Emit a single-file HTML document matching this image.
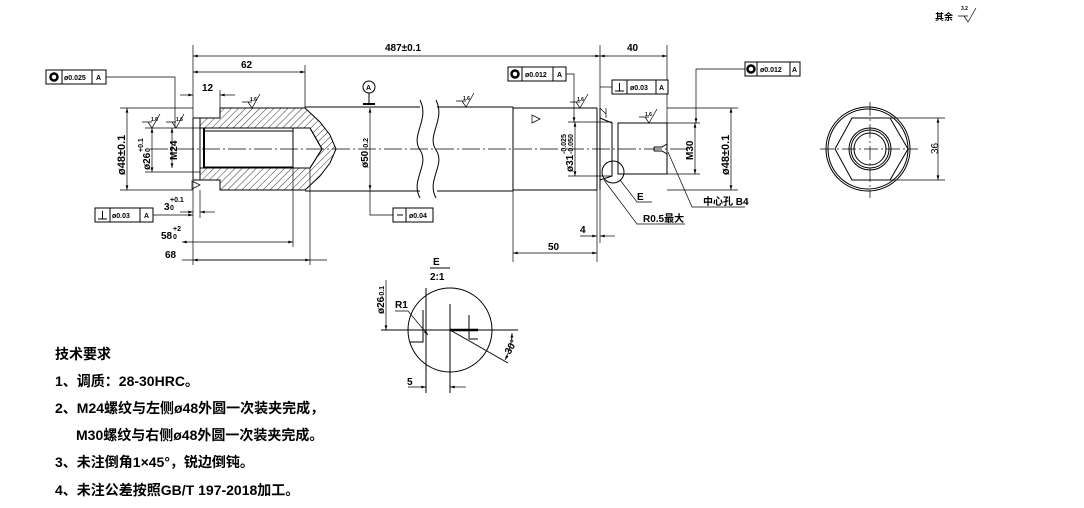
<!DOCTYPE html>
<html><head><meta charset="utf-8"><style>
html,body{margin:0;padding:0;background:#fff}
svg{display:block}
text{font-family:"Liberation Sans","Noto Sans CJK SC",sans-serif;fill:#000}
.t{font-size:10px;font-weight:bold}
.s{font-size:7px;font-weight:bold}
.req{font-size:14px;font-weight:bold}
</style></head><body>
<svg width="1084" height="508" viewBox="0 0 1084 508" xmlns="http://www.w3.org/2000/svg">
<defs>
<pattern id="h" width="5" height="5" patternUnits="userSpaceOnUse" patternTransform="rotate(45)">
<line x1="0" y1="0" x2="0" y2="5" stroke="#000" stroke-width="0.8"/></pattern>
<marker id="a" viewBox="0 0 10 6" refX="10" refY="3" markerWidth="8" markerHeight="4" orient="auto-start-reverse"><path d="M0,0L10,3L0,6z" fill="#000"/></marker>
</defs>
<g stroke="#000" fill="none" stroke-width="1">
<path d="M200,118 L220,118 L220,108 L305,108 L320,122 L330,135 L336,149 L330,163 L320,176 L305,190 L220,190 L220,180 L200,180 L200,168 L310,168 L322,149 L310,128 L200,128 Z" fill="url(#h)"/>
<rect x="200" y="128" width="110" height="40" fill="#fff" stroke="none"/>
<path d="M200,128 L310,128 L322,149 L310,168 L200,168"/>
<line x1="205" y1="131" x2="293" y2="131"/><line x1="205" y1="167" x2="293" y2="167"/>
<line x1="293" y1="128" x2="293" y2="168"/>
<line x1="193" y1="118" x2="193" y2="180"/><line x1="193" y1="118" x2="200" y2="118"/><line x1="193" y1="180" x2="200" y2="180"/>
<line x1="200" y1="118" x2="200" y2="180"/><line x1="204" y1="128" x2="204" y2="168" stroke-width="2"/>
<line x1="305" y1="107" x2="420" y2="107"/><line x1="305" y1="191" x2="420" y2="191"/>
<line x1="437" y1="107" x2="513" y2="107"/><line x1="437" y1="191" x2="513" y2="191"/>
<path d="M420,100 C430,120 410,135 420,150 C430,165 410,180 420,198"/>
<path d="M436,100 C446,120 426,135 436,150 C446,165 426,180 436,198"/>
<line x1="513" y1="107" x2="513" y2="191"/>
<line x1="513" y1="108" x2="597" y2="108"/><line x1="513" y1="190" x2="597" y2="190"/>
<line x1="597" y1="108" x2="597" y2="190"/><line x1="600" y1="108" x2="600" y2="190"/>
<path d="M600,118 L612,123 L612,176 L600,180"/>
<line x1="612" y1="123" x2="612" y2="176"/><line x1="618" y1="123" x2="618" y2="174"/>
<rect x="618" y="123" width="49" height="51"/>
<path d="M654,147 L662,147 L667,144 M654,151 L662,151 L667,154 M654,147 L654,151"/>
<circle cx="613" cy="172" r="11"/>
<line x1="150" y1="149" x2="690" y2="149" stroke-dasharray="18,3,2,3" stroke-width="0.7"/>
<line x1="193" y1="45" x2="193" y2="118" stroke-width="0.7"/>
<line x1="600" y1="45" x2="600" y2="108" stroke-width="0.7"/>
<line x1="667" y1="45" x2="667" y2="123" stroke-width="0.7"/>
<line x1="305" y1="65" x2="305" y2="108" stroke-width="0.7"/>
<line x1="193" y1="56" x2="600" y2="56" marker-start="url(#a)" marker-end="url(#a)" stroke-width="0.7"/>
<line x1="600" y1="56" x2="667" y2="56" marker-start="url(#a)" marker-end="url(#a)" stroke-width="0.7"/>
<line x1="193" y1="72" x2="305" y2="72" marker-start="url(#a)" marker-end="url(#a)" stroke-width="0.7"/>
<line x1="180" y1="95" x2="193" y2="95" marker-end="url(#a)" stroke-width="0.7"/>
<line x1="220" y1="95" x2="235" y2="95" marker-start="url(#a)" stroke-width="0.7"/>
<line x1="220" y1="90" x2="220" y2="108" stroke-width="0.7"/>
<line x1="120" y1="108" x2="193" y2="108" stroke-width="0.7"/>
<line x1="120" y1="190" x2="193" y2="190" stroke-width="0.7"/>
<line x1="127" y1="108" x2="127" y2="190" marker-start="url(#a)" marker-end="url(#a)" stroke-width="0.7"/>
<line x1="145" y1="128" x2="200" y2="128" stroke-width="0.7"/>
<line x1="145" y1="172" x2="200" y2="172" stroke-width="0.7"/>
<line x1="152" y1="128" x2="152" y2="172" marker-start="url(#a)" marker-end="url(#a)" stroke-width="0.7"/>
<line x1="172" y1="128" x2="172" y2="168" marker-start="url(#a)" marker-end="url(#a)" stroke-width="0.7"/>
<line x1="193" y1="180" x2="193" y2="265" stroke-width="0.7"/>
<line x1="200" y1="190" x2="200" y2="218" stroke-width="0.7"/>
<line x1="293" y1="168" x2="293" y2="247" stroke-width="0.7"/>
<line x1="310" y1="168" x2="310" y2="265" stroke-width="0.7"/>
<line x1="180" y1="212" x2="193" y2="212" marker-end="url(#a)" stroke-width="0.7"/>
<line x1="200" y1="212" x2="215" y2="212" marker-start="url(#a)" stroke-width="0.7"/>
<line x1="182" y1="242" x2="293" y2="242" marker-start="url(#a)" marker-end="url(#a)" stroke-width="0.7"/>
<line x1="182" y1="260" x2="327" y2="260" stroke-width="0.7"/>
<line x1="193" y1="260" x2="310" y2="260" marker-start="url(#a)" marker-end="url(#a)" stroke-width="0.7"/>
<rect x="46" y="70" width="60" height="14" fill="#fff"/>
<line x1="62" y1="70" x2="62" y2="84"/><line x1="92" y1="70" x2="92" y2="84"/>
<circle cx="54" cy="77" r="3.5" stroke-width="2.5"/>
<path d="M106,77 L175,77 L175,128" stroke-width="0.7"/>
<rect x="95" y="208" width="58" height="14" fill="#fff"/>
<line x1="110" y1="208" x2="110" y2="222"/><line x1="140" y1="208" x2="140" y2="222"/>
<path d="M98,219 L107,219 M102.5,211 L102.5,219"/>
<line x1="153" y1="215" x2="193" y2="215" stroke-width="0.7" marker-end="url(#a)"/>
<circle cx="369" cy="87" r="6"/>
<line x1="369" y1="93" x2="369" y2="103"/><line x1="363" y1="104" x2="375" y2="104" stroke-width="2"/>
<line x1="370" y1="108" x2="370" y2="190" marker-start="url(#a)" marker-end="url(#a)" stroke-width="0.7"/>
<path d="M370,190 L370,215 L393,215" stroke-width="0.7"/>
<rect x="393" y="208" width="40" height="14" fill="#fff"/><line x1="406" y1="208" x2="406" y2="222"/>
<line x1="397" y1="215" x2="403" y2="215"/>
<line x1="513" y1="191" x2="513" y2="262" stroke-width="0.7"/>
<line x1="597" y1="190" x2="597" y2="262" stroke-width="0.7"/>
<line x1="600" y1="190" x2="600" y2="243" stroke-width="0.7"/>
<line x1="513" y1="253" x2="597" y2="253" marker-start="url(#a)" marker-end="url(#a)" stroke-width="0.7"/>
<line x1="580" y1="236" x2="597" y2="236" marker-end="url(#a)" stroke-width="0.7"/>
<line x1="600" y1="236" x2="615" y2="236" marker-start="url(#a)" stroke-width="0.7"/>
<line x1="568" y1="122" x2="612" y2="122" stroke-width="0.7"/>
<line x1="568" y1="176" x2="612" y2="176" stroke-width="0.7"/>
<line x1="575" y1="122" x2="575" y2="176" marker-start="url(#a)" marker-end="url(#a)" stroke-width="0.7"/>
<line x1="667" y1="123" x2="700" y2="123" stroke-width="0.7"/>
<line x1="667" y1="174" x2="700" y2="174" stroke-width="0.7"/>
<line x1="695" y1="123" x2="695" y2="174" marker-start="url(#a)" marker-end="url(#a)" stroke-width="0.7"/>
<line x1="667" y1="108" x2="738" y2="108" stroke-width="0.7"/>
<line x1="667" y1="190" x2="738" y2="190" stroke-width="0.7"/>
<line x1="731" y1="108" x2="731" y2="190" marker-start="url(#a)" marker-end="url(#a)" stroke-width="0.7"/>
<rect x="508" y="67" width="58" height="14" fill="#fff"/><line x1="522" y1="67" x2="522" y2="81"/><line x1="553" y1="67" x2="553" y2="81"/>
<circle cx="515" cy="74" r="3.5" stroke-width="2.5"/>
<path d="M566,74 L574,74 L574,122" stroke-width="0.7" marker-end="url(#a)"/>
<rect x="612" y="80" width="56" height="14" fill="#fff"/><line x1="627" y1="80" x2="627" y2="94"/><line x1="656" y1="80" x2="656" y2="94"/>
<path d="M615,91 L624,91 M619.5,83 L619.5,91"/>
<path d="M612,87 L600,87" stroke-width="0.7"/>
<rect x="745" y="62" width="55" height="14" fill="#fff"/><line x1="757" y1="62" x2="757" y2="76"/><line x1="790" y1="62" x2="790" y2="76"/>
<circle cx="751" cy="69" r="3.5" stroke-width="2.5"/>
<path d="M745,69 L696,69 L696,123" stroke-width="0.7" marker-end="url(#a)"/>
<path d="M620,180 L637,202 L652,202" stroke-width="0.7"/>
<path d="M604,180 L637,224 L685,224" stroke-width="0.7"/>
<path d="M668,152 L692,207 L745,207" stroke-width="0.7"/>
<path d="M148,122 L152,128 L160,114 M142,122 L152,122" stroke-width="0.7"/>
<path d="M172,122 L176,128 L184,114 M166,122 L176,122" stroke-width="0.7"/>
<path d="M248,102 L252,108 L260,94 M242,102 L252,102" stroke-width="0.7"/>
<path d="M462,101 L466,107 L474,93 M456,101 L466,101" stroke-width="0.7"/>
<path d="M576,102 L580,108 L588,94 M570,102 L580,102" stroke-width="0.7"/>
<path d="M645,117 L649,123 L657,109 M639,117 L649,117" stroke-width="0.7"/>
<path d="M200,185 L192,181 L192,189 Z" stroke-width="0.7"/>
<path d="M540,119 L532,115 L532,123 Z" stroke-width="0.7"/>
<path d="M600,108 L606,114 M606,108 L606,118" stroke-width="0.7"/>
<path d="M964,16 L968,22 L976,8 M958,16 L968,16" stroke-width="0.7"/>
<circle cx="868" cy="149" r="42"/><circle cx="868" cy="149" r="40"/>
<path d="M852,118 L890,118 L908,149 L890,180 L852,180 L835,149 Z"/>
<circle cx="870" cy="149" r="21"/><circle cx="870" cy="149" r="19"/><circle cx="870" cy="149" r="16"/>
<line x1="820" y1="149" x2="918" y2="149" stroke-dasharray="14,3,2,3" stroke-width="0.7"/>
<line x1="870" y1="102" x2="870" y2="198" stroke-dasharray="14,3,2,3" stroke-width="0.7"/>
<line x1="890" y1="118" x2="945" y2="118" stroke-width="0.7"/>
<line x1="890" y1="180" x2="945" y2="180" stroke-width="0.7"/>
<line x1="938" y1="118" x2="938" y2="180" marker-start="url(#a)" marker-end="url(#a)" stroke-width="0.7"/>
<circle cx="450" cy="330" r="42"/>
<line x1="381" y1="330" x2="518" y2="330"/>
<line x1="426" y1="288" x2="426" y2="393"/>
<line x1="450" y1="304" x2="450" y2="393"/>
<path d="M423,310 L423,342 L410,342" />
<path d="M469,315 L469,339 L478,339"/>
<line x1="450" y1="330" x2="478" y2="330" stroke-width="2.5"/>
<line x1="450" y1="330" x2="508" y2="363"/>
<path d="M512,333 A60,60 0 0 1 505,360" marker-start="url(#a)" marker-end="url(#a)" stroke-width="0.7"/>
<line x1="386" y1="280" x2="386" y2="330" marker-end="url(#a)" stroke-width="0.7"/>
<path d="M395,311 L408,311 L428,335" stroke-width="0.7" marker-end="url(#a)"/>
<line x1="408" y1="387" x2="426" y2="387" marker-end="url(#a)" stroke-width="0.7"/>
<line x1="450" y1="387" x2="466" y2="387" marker-start="url(#a)" stroke-width="0.7"/>
<line x1="430" y1="268" x2="450" y2="268"/>
</g>
<g class="t">
<text x="385" y="51">487±0.1</text>
<text x="627" y="51">40</text>
<text x="241" y="68">62</text>
<text x="202" y="91">12</text>
<text x="164" y="210">3</text><text x="170" y="202" class="s">+0.1</text><text x="170" y="210" class="s">0</text>
<text x="161" y="239">58</text><text x="173" y="231" class="s">+2</text><text x="173" y="239" class="s">0</text>
<text x="165" y="258">68</text>
<text x="548" y="250">50</text>
<text x="580" y="233">4</text>
<text class="s" x="64" y="80">ø0.025</text><text class="s" x="96" y="80">A</text>
<text class="s" x="112" y="218">ø0.03</text><text class="s" x="144" y="218">A</text>
<text class="s" x="409" y="218">ø0.04</text>
<text class="s" x="366" y="90">A</text>
<text class="s" x="525" y="77">ø0.012</text><text class="s" x="557" y="77">A</text>
<text class="s" x="630" y="90">ø0.03</text><text class="s" x="659" y="90">A</text>
<text class="s" x="760" y="72">ø0.012</text><text class="s" x="792" y="72">A</text>
<text x="637" y="200">E</text>
<text x="643" y="222">R0.5最大</text>
<text x="703" y="205">中心孔 B4</text>
<text x="935" y="20" class="s" style="font-size:9px">其余</text>
<text x="961" y="10" class="s" style="font-size:5px">3.2</text>
<text x="433" y="265">E</text>
<text x="430" y="280">2:1</text>
<text x="395" y="308">R1</text>
<text x="407" y="385">5</text>
<text transform="translate(510,355) rotate(-60)">30°</text>
<text transform="translate(125,175) rotate(-90)" style="font-size:11px">ø48±0.1</text>
<text transform="translate(150,170) rotate(-90)">ø26</text><text class="s" transform="translate(143,152) rotate(-90)">+0.1</text><text class="s" transform="translate(150,152) rotate(-90)">0</text>
<text transform="translate(177,160) rotate(-90)">M24</text>
<text transform="translate(368,168) rotate(-90)">ø50</text><text class="s" transform="translate(368,150) rotate(-90)">-0.2</text>
<text transform="translate(573,172) rotate(-90)">ø31</text><text class="s" transform="translate(566,154) rotate(-90)">-0.025</text><text class="s" transform="translate(573,154) rotate(-90)">-0.050</text>
<text transform="translate(693,160) rotate(-90)">M30</text>
<text transform="translate(729,175) rotate(-90)" style="font-size:11px">ø48±0.1</text>
<text transform="translate(384,314) rotate(-90)">ø26</text><text class="s" transform="translate(384,298) rotate(-90)">-0.1</text>
<text transform="translate(938,154) rotate(-90)" style="font-weight:normal">36</text>
<text class="s" x="151" y="121" style="font-size:5px">1.6</text>
<text class="s" x="176" y="121" style="font-size:5px">1.6</text>
<text class="s" x="250" y="101" style="font-size:5px">1.6</text>
<text class="s" x="463" y="100" style="font-size:5px">1.6</text>
<text class="s" x="577" y="101" style="font-size:5px">1.6</text>
<text class="s" x="645" y="116" style="font-size:5px">1.6</text>
</g>
<g class="req">
<text x="55" y="359">技术要求</text>
<text x="55" y="386">1、调质：28-30HRC。</text>
<text x="55" y="413">2、M24螺纹与左侧ø48外圆一次装夹完成，</text>
<text x="76" y="440">M30螺纹与右侧ø48外圆一次装夹完成。</text>
<text x="55" y="467">3、未注倒角1×45°，锐边倒钝。</text>
<text x="55" y="495">4、未注公差按照GB/T 197-2018加工。</text>
</g>
</svg>
</body></html>
